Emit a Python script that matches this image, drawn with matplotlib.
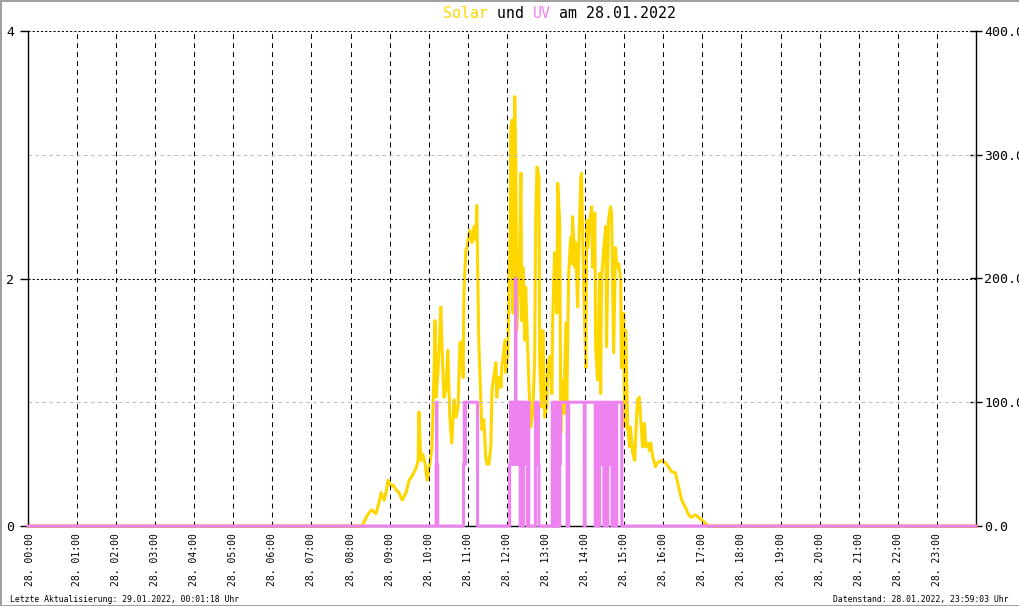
import matplotlib
matplotlib.use("Agg")
import matplotlib.pyplot as plt

# --- data ---
day = "28"
hours = list(range(24))
hour_labels = [f"{day}. {h:02d}:00" for h in hours]

solar_time = [-0.25, 8.30, 8.40, 8.48, 8.55, 8.65, 8.73, 8.78, 8.86, 8.91, 8.96,
              9.04, 9.09, 9.17, 9.24, 9.32, 9.42, 9.50, 9.57, 9.68, 9.73, 9.75,
              9.80, 9.85, 9.91, 9.96, 10.03, 10.08, 10.14, 10.16, 10.19, 10.24,
              10.31, 10.34, 10.39, 10.44, 10.49, 10.54, 10.59, 10.65, 10.70,
              10.75, 10.80, 10.85, 10.88, 10.90, 10.95, 10.98, 11.05, 11.11,
              11.16, 11.21, 11.23, 11.28, 11.34, 11.36, 11.41, 11.46, 11.49,
              11.54, 11.59, 11.62, 11.67, 11.72, 11.74, 11.79, 11.85, 11.87,
              11.95, 11.97, 12.02, 12.08, 12.10, 12.13, 12.15, 12.20, 12.23,
              12.25, 12.31, 12.36, 12.38, 12.41, 12.46, 12.48, 12.54, 12.59,
              12.61, 12.66, 12.71, 12.74, 12.77, 12.82, 12.84, 12.89, 12.92,
              12.97, 13.02, 13.05, 13.10, 13.15, 13.17, 13.22, 13.28, 13.30,
              13.35, 13.38, 13.40, 13.45, 13.51, 13.53, 13.58, 13.63, 13.66,
              13.68, 13.74, 13.76, 13.81, 13.84, 13.89, 13.91, 13.96, 14.02,
              14.04, 14.07, 14.12, 14.17, 14.19, 14.25, 14.27, 14.32, 14.37,
              14.40, 14.42, 14.48, 14.53, 14.55, 14.60, 14.65, 14.68, 14.73,
              14.78, 14.81, 14.86, 14.91, 14.93, 14.99, 15.01, 15.04, 15.09,
              15.14, 15.16, 15.22, 15.27, 15.29, 15.34, 15.39, 15.42, 15.47,
              15.52, 15.55, 15.60, 15.65, 15.68, 15.73, 15.80, 15.85, 15.96,
              16.06, 16.13, 16.21, 16.31, 16.39, 16.47, 16.57, 16.65, 16.72,
              16.82, 16.90, 16.98, 17.08, 17.16, 24]
solar_wm2 = [0, 0, 7, 11, 13, 10, 19, 27, 21, 27, 37,
             32, 33, 29, 27, 21, 27, 37, 40, 47, 53, 92,
             53, 58, 50, 37, 51, 62, 128, 166, 104, 126,
             177, 145, 104, 110, 142, 88, 67, 102, 88,
             96, 148, 149, 120, 188, 223, 225, 239, 229,
             242, 231, 259, 150, 96, 78, 86, 55, 50,
             50, 65, 110, 122, 132, 104, 120, 112, 128,
             150, 124, 140, 231, 322, 328, 172, 347, 293,
             158, 199, 285, 166, 209, 150, 193, 137, 91,
             80, 91, 132, 253, 290, 282, 132, 96, 158,
             88, 96, 132, 137, 107, 164, 221, 172, 277,
             247, 75, 118, 91, 164, 91, 204, 233, 212,
             250, 209, 229, 177, 225, 282, 285, 199, 128,
             247, 225, 247, 258, 209, 253, 145, 118, 204,
             107, 199, 225, 242, 145, 247, 258, 253, 140,
             225, 209, 212, 199, 128, 172, 80, 158, 80,
             64, 80, 59, 53, 69, 102, 104, 88, 64,
             83, 64, 67, 61, 67, 56, 48, 51, 53,
             51, 48, 44, 43, 32, 21, 15, 9, 7,
             9, 7, 5, 2, 0, 0]

uv_time = [-0.25, 10.19, 10.20, 10.21, 10.23,
           10.89, 10.91, 10.92, 10.94, 11.25,
           12.07, 12.09, 12.10, 12.11, 12.12, 12.13, 12.14, 12.16, 12.17, 12.18,
           12.19, 12.21, 12.22, 12.23, 12.24, 12.26, 12.27, 12.29, 12.30, 12.32,
           12.34, 12.35, 12.37, 12.38, 12.40, 12.42, 12.44, 12.46, 12.48, 12.50,
           12.52, 12.54, 12.56,
           12.73, 12.74, 12.76, 12.77, 12.79, 12.80, 12.82,
           13.16, 13.17, 13.19, 13.20, 13.21, 13.23, 13.24, 13.25, 13.27, 13.28,
           13.30, 13.31, 13.33, 13.35, 13.37,
           13.54, 13.58, 13.98, 14.00,
           14.26, 14.28, 14.30, 14.31, 14.33, 14.35, 14.37, 14.39, 14.41, 14.43,
           14.45, 14.48, 14.50, 14.56, 14.58, 14.62, 14.64, 14.69, 14.71, 14.74,
           14.77, 14.79, 14.81, 14.94, 24]
uv_index = [0, 0.5, 1, 0.5, 0,
            0.5, 1, 0.5, 1, 0,
            0.5, 1, 0.5, 1, 0.5, 1, 0.5, 1, 0.5, 1,
            0.5, 1, 2, 1, 0.5, 1, 0.5, 1, 0.5, 1,
            0, 1, 0.5, 1, 0, 1, 0.5, 1, 0.5, 1,
            0, 1, 0,
            1, 0.5, 1, 0.5, 1, 0.5, 0,
            1, 0, 1, 0.5, 0, 1, 0, 1, 0.5, 0,
            1, 0.5, 0, 0.5, 1,
            0, 1, 0, 1,
            0, 1, 0.5, 1, 0.5, 0, 1, 0.5, 1, 0.5,
            1, 0, 1, 0, 1, 0.5, 1, 0, 1, 0,
            1, 0, 1, 0, 0]

title_parts = [("Solar", "#FFD700"), (" und ", "black"), ("UV", "#EE82EE"),
               (" am 28.01.2022", "black")]
footer_left = "Letzte Aktualisierung: 29.01.2022, 00:01:18 Uhr"
footer_right = "Datenstand: 28.01.2022, 23:59:03 Uhr"

plt.rcParams['font.family'] = 'DejaVu Sans Mono'
plt.rcParams['lines.scale_dashes'] = False
plt.rcParams['path.simplify'] = False

W, H = 1020, 606
fig = plt.figure(figsize=(W / 100, H / 100), dpi=100, facecolor='white',
                 edgecolor='#a0a0a0', linewidth=2)
ax = fig.add_axes([28 / W, 1 - 526 / H, 948 / W, 495 / H])
ax2 = ax.twinx()
# UV axis on top, solar axis underneath
ax.set_zorder(2)
ax2.set_zorder(1)
ax.patch.set_visible(False)

ax2.plot(solar_time, solar_wm2, color='#FFD700', lw=2.2, clip_on=False)
ax.plot(uv_time, uv_index, color='#EE82EE', lw=2.2, drawstyle='steps-post',
        clip_on=False, snap=False, zorder=3)

ax.set_xlim(-0.25, 24)
ax.set_ylim(0, 4)
ax2.set_ylim(0, 400)

# the 00:00 label sits against the left axis line in the original
ax.set_xticks([-0.2] + hours[1:])
ax.set_xticklabels(hour_labels)
ax.tick_params(axis='x', length=0, pad=5, labelsize=7, labelrotation=90)
ax.set_yticks([0, 2, 4])
ax.set_yticklabels(['0', '2', '4'])
ax.set_yticks([1, 3], minor=True)
ax.tick_params(axis='y', which='major', direction='out', length=6, width=1,
               labelsize=9.5, pad=4)
ax.tick_params(axis='y', which='minor', length=0)

ax2.set_yticks([0, 100, 200, 300, 400])
ax2.set_yticklabels(['0.0', '100.0', '200.0', '300.0', '400.0'])
ax2.tick_params(axis='y', direction='inout', length=8, width=1, labelsize=9.5,
                pad=2)

ax.set_axisbelow(True)
ax.xaxis.grid(True, color='black', lw=0.75, ls=(0, (3.5, 3)))
ax.get_xgridlines()[0].set_visible(False)
ax.yaxis.grid(True, which='major', color='black', lw=0.75, ls=(0, (1.5, 1.5)))
ax.yaxis.grid(True, which='minor', color='#bbbbbb', lw=0.75, ls=(0, (2.5, 2.5)))

for a in (ax, ax2):
    a.spines['top'].set_visible(False)
    for s in a.spines.values():
        s.set_linewidth(1)
ax.spines['right'].set_visible(False)
ax2.spines['left'].set_visible(False)
ax2.spines['bottom'].set_visible(False)

# coloured title, monospace pieces laid out one after the other
fs = 10.7
cw = 0.602 * fs * 100 / 72 / W
x = 443 / W
for txt, col in title_parts:
    fig.text(x, 1 - 18 / H, txt, color=col, fontsize=fs, ha='left', va='baseline')
    x += len(txt) * cw

fig.text(10 / W, 4 / H, footer_left, fontsize=5.9, ha='left', va='baseline')
fig.text(1009 / W, 4 / H, footer_right, fontsize=5.9, ha='right', va='baseline')

fig.savefig('out.png', dpi=100, facecolor='white', edgecolor=fig.get_edgecolor())
